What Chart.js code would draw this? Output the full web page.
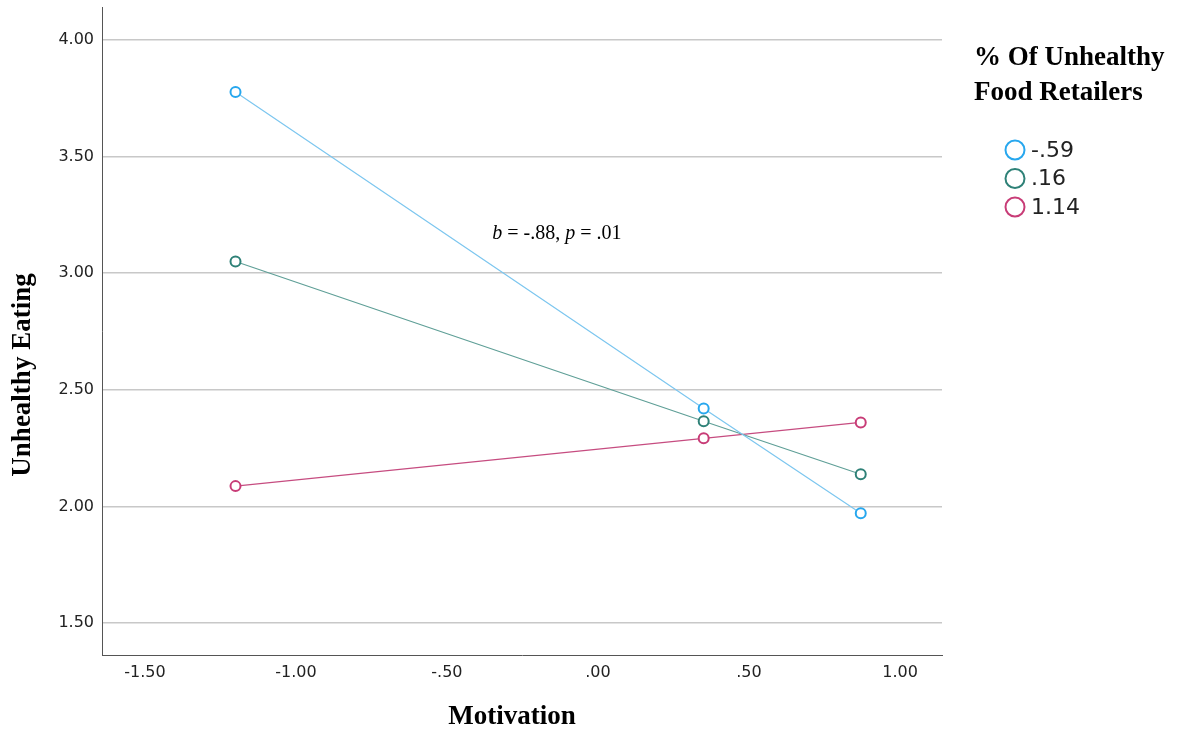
<!DOCTYPE html>
<html>
<head>
<meta charset="utf-8">
<title>Unhealthy Eating by Motivation</title>
<script src="https://cdn.jsdelivr.net/npm/chart.js@4"></script>
<style>
  body { margin: 0; background: #fff; }
  #wrap { width: 1179px; height: 732px; }
</style>
</head>
<body>
<div id="wrap"><canvas id="chart" width="1179" height="732"></canvas></div>
<script>
// Motivation values (x) and predicted unhealthy eating per moderator level
const motivation = [-1.2, 0.35, 0.87];
const seriesLabels = ["-.59", ".16", "1.14"];
const lowRetailers = [3.777, 2.42, 1.971];
const midRetailers = [3.05, 2.365, 2.138];
const highRetailers = [2.087, 2.292, 2.36];

const xTicks = [-1.5, -1.0, -0.5, 0, 0.5, 1.0];
const yTicks = [1.5, 2.0, 2.5, 3.0, 3.5, 4.0];

const legendTitle = ["% Of Unhealthy", "Food Retailers"];
const xTitle = "Motivation";
const yTitle = "Unhealthy Eating";

// slope note, anchored in data units
const notePos = [-0.136, 3.17];
const noteParts = [
  { text: "b", italic: true },
  { text: " = -.88, " },
  { text: "p", italic: true },
  { text: " = .01" }
];

const lineColors = ["#7cc6ef", "#5f9f97", "#c64c80"];
const pointColors = ["#27a7ee", "#2e8177", "#c83c77"];

const SERIF = '"Liberation Serif", "Times New Roman", serif';
const SANS = '"DejaVu Sans", Verdana, sans-serif';

// SPSS style: drop the leading zero
const fmt = (v) => v.toFixed(2).replace(/^(-?)0\./, "$1.");

const toPoints = (ys) => ys.map((y, i) => ({ x: motivation[i], y: y }));

const datasets = [lowRetailers, midRetailers, highRetailers].map((ys, i) => ({
  label: seriesLabels[i],
  data: toPoints(ys),
  borderColor: lineColors[i],
  borderWidth: 1.2,
  pointRadius: 5,
  pointBorderWidth: 2,
  pointBorderColor: pointColors[i],
  pointBackgroundColor: "#fff",
  legendColor: pointColors[i],
  tension: 0,
  fill: false
}));

const extrasPlugin = {
  id: "extras",
  afterDraw(chart) {
    const ctx = chart.ctx;
    const { x, y } = chart.scales;
    ctx.save();
    ctx.fillStyle = "#000";

    // slope annotation
    const regular = "20px " + SERIF;
    const italic = "italic 20px " + SERIF;
    let total = 0;
    noteParts.forEach((p) => {
      ctx.font = p.italic ? italic : regular;
      total += ctx.measureText(p.text).width;
    });
    let nx = x.getPixelForValue(notePos[0]) - total / 2;
    const ny = y.getPixelForValue(notePos[1]);
    ctx.textBaseline = "middle";
    ctx.textAlign = "left";
    noteParts.forEach((p) => {
      ctx.font = p.italic ? italic : regular;
      ctx.fillText(p.text, nx, ny);
      nx += ctx.measureText(p.text).width;
    });

    // axis titles
    ctx.font = "bold 27px " + SERIF;
    ctx.textAlign = "center";
    ctx.fillText(xTitle, 512, 717);
    ctx.save();
    ctx.translate(23, 375);
    ctx.rotate(-Math.PI / 2);
    ctx.fillText(yTitle, 0, 0);
    ctx.restore();

    // legend
    ctx.textAlign = "left";
    ctx.font = "bold 27px " + SERIF;
    legendTitle.forEach((t, i) => ctx.fillText(t, 974, 58 + i * 35));
    ctx.font = "22px " + SANS;
    chart.data.datasets.forEach((ds, i) => {
      const ry = 150 + i * 28.5;
      ctx.beginPath();
      ctx.arc(1015, ry, 9.5, 0, Math.PI * 2);
      ctx.lineWidth = 2;
      ctx.strokeStyle = ds.legendColor;
      ctx.stroke();
      ctx.fillStyle = "#222";
      ctx.fillText(ds.label, 1031, ry + 1);
    });
    ctx.restore();
  }
};

new Chart(document.getElementById("chart"), {
  type: "line",
  data: { datasets: datasets },
  options: {
    responsive: false,
    animation: false,
    layout: { padding: { top: 6, right: 237, left: 0, bottom: 0 } },
    plugins: {
      legend: { display: false },
      tooltip: { enabled: false }
    },
    scales: {
      x: {
        type: "linear",
        min: -1.642,
        max: 1.139,
        afterBuildTicks: (axis) => { axis.ticks = xTicks.map((v) => ({ value: v })); },
        afterFit: (axis) => {
          axis.height = 77;
          axis.paddingLeft = 0;
          axis.paddingRight = 0;
        },
        grid: { display: false, drawTicks: false },
        border: { display: true, color: "#555", width: 1 },
        ticks: {
          padding: 8,
          color: "#222",
          font: { family: SANS, size: 16 },
          callback: (v) => fmt(v)
        }
      },
      y: {
        type: "linear",
        min: 1.363,
        max: 4.141,
        afterBuildTicks: (axis) => { axis.ticks = yTicks.map((v) => ({ value: v })); },
        afterFit: (axis) => {
          axis.width = 102;
          axis.paddingTop = 0;
          axis.paddingBottom = 0;
        },
        grid: { color: "#c8c8c8", lineWidth: 1.5, drawTicks: false },
        border: { display: true, color: "#555", width: 1 },
        ticks: {
          padding: 8,
          color: "#222",
          font: { family: SANS, size: 16 },
          callback: (v) => fmt(v)
        }
      }
    }
  },
  plugins: [extrasPlugin]
});
</script>
</body>
</html>
